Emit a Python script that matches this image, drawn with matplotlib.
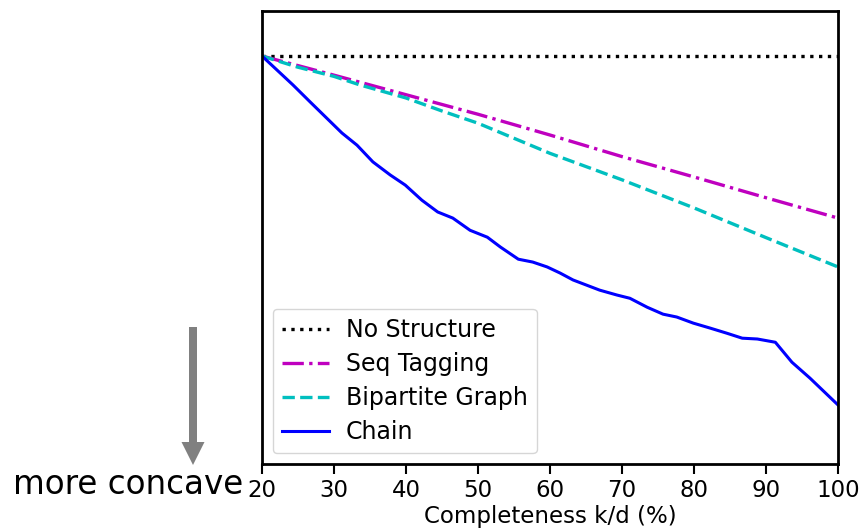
import matplotlib
matplotlib.use("Agg")
import matplotlib.pyplot as plt
from matplotlib.patches import FancyArrow

# ---- data ----
x_ticks = [20, 30, 40, 50, 60, 70, 80, 90, 100]

no_struct_x = [20, 100]
no_struct_y = [1.0, 1.0]

seq_x = [20, 30, 40, 50, 60, 70, 80, 90, 100]
seq_y = [1.0, 0.953, 0.905, 0.857, 0.806, 0.753, 0.703, 0.652, 0.602]

bip_x = [20, 24.9, 30, 33.6, 40, 45, 50, 60, 70, 80, 90, 100]
bip_y = [1.0, 0.973, 0.950, 0.929, 0.897, 0.865, 0.835, 0.761, 0.696, 0.627, 0.554, 0.482]

chain_x = [20, 24.3, 26.7, 31.1, 33.2, 35.4, 37.8, 39.9, 42.2, 44.4, 46.5, 48.9,
           51.3, 53.1, 55.6, 57.6, 59.6, 61.4, 63.2, 66.9, 69.3, 71.1, 73.5, 75.7,
           77.6, 79.9, 82.2, 84.6, 86.7, 88.8, 91.3, 93.6, 96.1, 100]
chain_y = [1.0, 0.929, 0.887, 0.811, 0.781, 0.740, 0.708, 0.683, 0.646, 0.617, 0.602, 0.572,
           0.555, 0.531, 0.501, 0.494, 0.482, 0.467, 0.450, 0.425, 0.413, 0.405, 0.383, 0.366,
           0.359, 0.344, 0.332, 0.319, 0.307, 0.305, 0.297, 0.248, 0.209, 0.143]

W, H = 866, 529
fig = plt.figure(figsize=(W / 100, H / 100), dpi=100)

# overlay axes in pixel coordinates for the annotation arrow + text
ov = fig.add_axes([0, 0, 1, 1])
ov.set_xlim(0, W)
ov.set_ylim(H, 0)
ov.axis("off")

ax = fig.add_axes([262 / W, 1 - 464 / H, (838 - 262) / W, (464 - 11) / H])

ax.plot(no_struct_x, no_struct_y, color="black", linestyle=":", lw=2.4, label="No Structure")
ax.plot(seq_x, seq_y, color="m", linestyle="-.", lw=2.4, label="Seq Tagging")
ax.plot(bip_x, bip_y, color="c", linestyle="--", lw=2.4, label="Bipartite Graph")
ax.plot(chain_x, chain_y, color="blue", linestyle="-", lw=2.2, label="Chain")

ax.set_xlim(20, 100)
ax.set_ylim(-0.002, 1.1106)
ax.set_xticks(x_ticks)
ax.set_xticklabels([str(t) for t in x_ticks], fontsize=16.5)
ax.set_yticks([])
ax.tick_params(axis="x", length=7, width=1.5, direction="out", pad=4)
for s in ax.spines.values():
    s.set_linewidth(2.0)
ax.set_xlabel("Completeness k/d (%)", fontsize=16.5, labelpad=2)

leg = ax.legend(loc="lower left", fontsize=17, frameon=True, handlelength=2.0,
                handletextpad=0.7, borderpad=0.4, labelspacing=0.42,
                borderaxespad=0.45, bbox_to_anchor=(0.0, 0.0))
leg.get_frame().set_linewidth(1.0)

# annotation arrow and text
ov.add_patch(FancyArrow(193, 327, 0, 138, width=8, head_width=23, head_length=23,
                        length_includes_head=True, color="#808080", lw=0))
ov.text(13, 494, "more concave", fontsize=23.5, ha="left", va="baseline", color="black")

fig.savefig("out.png", dpi=100)
